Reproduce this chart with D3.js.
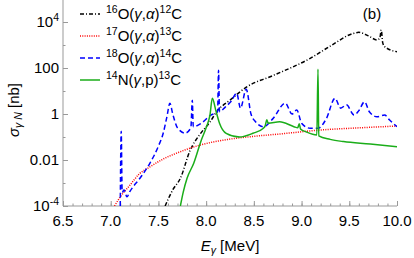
<!DOCTYPE html>
<html>
<head>
<meta charset="utf-8">
<script src="https://cdn.jsdelivr.net/npm/d3@7"></script>
<style>
  body { margin: 0; background: #fff; }
  text { font-family: "Liberation Sans", Arial, sans-serif; fill: #000; }
</style>
</head>
<body>
<script>
// tick values
const energyTicks = [6.5, 7.0, 7.5, 8.0, 8.5, 9.0, 9.5, 10.0];
const energyMinor = d3.range(65, 101).map((d) => d / 10);
const sigmaTicks = [1e-4, 1e-2, 1, 100, 1e4];
const sigmaLabels = [["10", "-4"], ["0.01", ""], ["1", ""], ["100", ""], ["10", "4"]];
const sigmaMinor = [1e-3, 1e-1, 10, 1e3, 1e5];

// [E (MeV), sigma (nb)]
const o16 = [
  [7.57, 1e-4], [7.65, 5e-4], [7.73, 1.6e-3], [7.83, 0.025], [7.94, 0.14],
  [8.04, 0.45], [8.11, 1.26], [8.25, 4.0], [8.43, 15.5], [8.69, 45],
  [9.09, 263], [9.3, 890], [9.54, 3160], [9.6, 3550], [9.7, 2500],
  [9.79, 1660], [9.82, 2000], [9.835, 4470], [9.85, 1260], [9.87, 850],
  [10.0, 510],
];
const o17 = [
  [7.04, 1e-4], [7.1, 2.5e-4], [7.2, 7.9e-4], [7.3, 2.5e-3], [7.41, 5e-3],
  [7.55, 0.011], [7.73, 0.023], [7.94, 0.045], [8.25, 0.081], [8.5, 0.107],
  [8.77, 0.135], [9.19, 0.2], [9.6, 0.25], [10.0, 0.3],
];
const o18 = [
  [7.1, 1e-4], [7.11, 0.18], [7.12, 4e-4], [7.14, 5e-4], [7.17, 2.5e-4],
  [7.2, 4.2e-4], [7.31, 1.7e-3], [7.41, 7.2e-3], [7.5, 0.04], [7.55, 0.145],
  [7.59, 0.8], [7.62, 2.95], [7.65, 1.0], [7.7, 0.25], [7.78, 0.148],
  [7.84, 0.25], [7.855, 4.0], [7.865, 0.28], [7.95, 0.4], [8.05, 0.9],
  [8.12, 1.26], [8.13, 80], [8.14, 1.26], [8.2, 2], [8.26, 3.5],
  [8.32, 7.9], [8.36, 1.8], [8.42, 12], [8.47, 1.0], [8.52, 0.45],
  [8.6, 0.28], [8.7, 0.63], [8.83, 2.95], [8.9, 1.0], [8.95, 1.5],
  [9.0, 0.4], [9.09, 0.24], [9.17, 0.24], [9.26, 0.63], [9.35, 4.8],
  [9.41, 1.8], [9.47, 2.5], [9.55, 0.9], [9.6, 1.4], [9.66, 3.4],
  [9.71, 1.26], [9.79, 0.76], [9.87, 0.9], [9.92, 0.56], [10.0, 0.28],
];
const n14 = [
  [7.73, 1e-4], [7.76, 4e-4], [7.8, 1.6e-3], [7.87, 7.2e-3], [7.95, 0.074],
  [8.0, 0.25], [8.04, 0.9], [8.065, 4.8], [8.1, 1.5], [8.14, 0.4],
  [8.21, 0.145], [8.35, 0.1], [8.49, 0.145], [8.6, 0.24], [8.62, 0.32],
  [8.635, 0.56], [8.65, 0.4], [8.77, 0.46], [8.92, 0.28], [8.96, 0.25],
  [8.975, 0.38], [8.99, 0.22], [9.05, 0.166], [9.16, 0.123], [9.172, 89],
  [9.18, 0.112], [9.3, 0.079], [9.44, 0.063], [9.72, 0.05], [10.0, 0.038],
];

const series = [
  { name: ["16", "O(", "γ", ",", "α", ")", "12", "C"], data: o16, color: "#000", dash: "4,2,1,2" },
  { name: ["17", "O(", "γ", ",", "α", ")", "13", "C"], data: o17, color: "#f00", dash: "1,1.3" },
  { name: ["18", "O(", "γ", ",", "α", ")", "14", "C"], data: o18, color: "#00f", dash: "5,3" },
  { name: ["14", "N(", "γ", ",p)", "", "", "13", "C"], data: n14, color: "#1aad19", dash: null },
];

const W = 414, H = 258;
const margin = { top: 0, left: 63, bottom: 52, right: 17 };

const x = d3.scaleLinear().domain([6.5, 10]).range([margin.left, W - margin.right]);
const y = d3.scaleLog().domain([1e-4, 1e5]).range([H - margin.bottom, -1]);

const svg = d3.create("svg").attr("width", W).attr("height", H);

const axisColor = "#999";

function styleAxis(g) {
  g.selectAll("line").attr("stroke", axisColor);
  g.selectAll(".domain").remove();
}

// x axis, ticks pointing inward
svg.append("g")
  .attr("transform", `translate(0,${y(1e-4)})`)
  .call(d3.axisTop(x).tickValues(energyMinor).tickSize(2.5).tickFormat(""))
  .call(styleAxis);
const xAxis = svg.append("g")
  .attr("transform", `translate(0,${y(1e-4)})`)
  .call(d3.axisTop(x).tickValues(energyTicks).tickSize(5).tickFormat(""))
  .call(styleAxis);
xAxis.append("line").attr("x1", x(6.5)).attr("x2", x(10)).attr("stroke", axisColor);
svg.append("g")
  .selectAll("text")
  .data(energyTicks)
  .join("text")
  .attr("x", (d) => x(d))
  .attr("y", y(1e-4) + 20)
  .attr("text-anchor", "middle")
  .attr("font-size", 15)
  .text((d) => d.toFixed(1));

// y axis
svg.append("g")
  .attr("transform", `translate(${x(6.5)},0)`)
  .call(d3.axisRight(y).tickValues(sigmaMinor).tickSize(2.5).tickFormat(""))
  .call(styleAxis);
const yAxis = svg.append("g")
  .attr("transform", `translate(${x(6.5)},0)`)
  .call(d3.axisRight(y).tickValues(sigmaTicks).tickSize(5).tickFormat(""))
  .call(styleAxis);
yAxis.append("line").attr("y1", y(1e-4)).attr("y2", 0).attr("stroke", axisColor);
const yl = svg.append("g")
  .selectAll("text")
  .data(sigmaTicks)
  .join("text")
  .attr("x", x(6.5) - 4)
  .attr("y", (d) => y(d) + 5)
  .attr("text-anchor", "end")
  .attr("font-size", 15);
yl.append("tspan").text((d, i) => sigmaLabels[i][0]);
yl.append("tspan")
  .attr("dy", -6)
  .attr("font-size", 10.5)
  .text((d, i) => sigmaLabels[i][1]);

// curves
const line = d3.line()
  .x((d) => x(d[0]))
  .y((d) => y(d[1]))
  .curve(d3.curveMonotoneX);

svg.append("defs").append("clipPath").attr("id", "clip")
  .append("rect")
  .attr("x", x(6.5)).attr("y", 0)
  .attr("width", x(10) - x(6.5)).attr("height", y(1e-4));

svg.append("g")
  .attr("clip-path", "url(#clip)")
  .selectAll("path")
  .data(series)
  .join("path")
  .attr("fill", "none")
  .attr("stroke", (d) => d.color)
  .attr("stroke-width", 1.5)
  .attr("stroke-dasharray", (d) => d.dash)
  .attr("d", (d) => line(d.data));

// legend
const legend = svg.append("g");
series.forEach((s, i) => {
  const ly = 14 + i * 22;
  legend.append("line")
    .attr("x1", 80).attr("x2", 100)
    .attr("y1", ly).attr("y2", ly)
    .attr("stroke", s.color)
    .attr("stroke-width", 1.5)
    .attr("stroke-dasharray", s.dash);
  const t = legend.append("text").attr("x", 106).attr("y", ly + 5).attr("font-size", 15);
  const n = s.name;
  t.append("tspan").attr("font-size", 10.5).attr("dy", -6).text(n[0]);
  t.append("tspan").attr("dy", 6).text(n[1]);
  t.append("tspan").attr("font-style", "italic").text(n[2]);
  t.append("tspan").text(n[3]);
  if (n[4]) t.append("tspan").attr("font-style", "italic").text(n[4]);
  if (n[5]) t.append("tspan").text(n[5]);
  t.append("tspan").attr("font-size", 10.5).attr("dy", -6).text(n[6]);
  t.append("tspan").attr("dy", 6).text(n[7]);
});

svg.append("text")
  .attr("x", 372).attr("y", 19)
  .attr("text-anchor", "middle")
  .attr("font-size", 15)
  .text("(b)");

// axis titles
const xt = svg.append("text")
  .attr("x", 230).attr("y", 251)
  .attr("text-anchor", "middle")
  .attr("font-size", 15);
xt.append("tspan").attr("font-style", "italic").text("E");
xt.append("tspan").attr("font-style", "italic").attr("font-size", 10.5).attr("dy", 3).text("γ");
xt.append("tspan").attr("dy", -3).text(" [MeV]");

const yt = svg.append("text")
  .attr("transform", "translate(19,110) rotate(-90)")
  .attr("text-anchor", "middle")
  .attr("font-size", 15);
yt.append("tspan").attr("font-style", "italic").text("σ");
yt.append("tspan").attr("font-style", "italic").attr("font-size", 10.5).attr("dy", 3).text("γ N");
yt.append("tspan").attr("dy", -3).text(" [nb]");

d3.select("body").append(() => svg.node());
</script>
</body>
</html>
